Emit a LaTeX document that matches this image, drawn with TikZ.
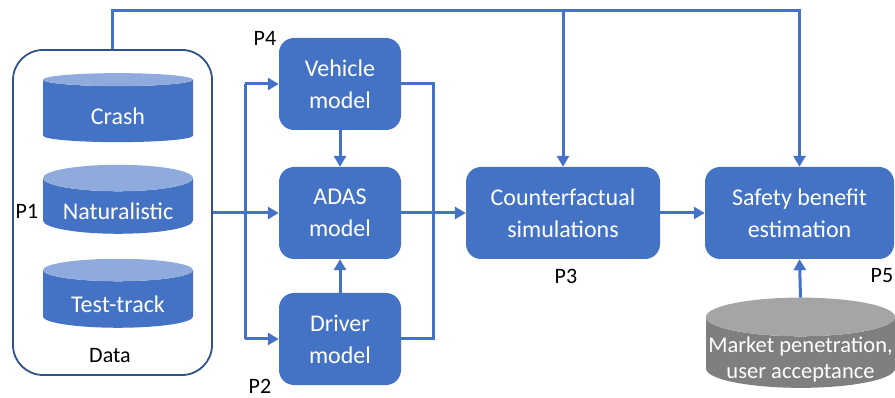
\documentclass[tikz,border=0pt]{standalone}
\usepackage{fontspec}
\setmainfont{Carlito}
\usetikzlibrary{shapes.geometric,arrows.meta}
\definecolor{boxblue}{HTML}{4472C4}
\definecolor{toplight}{HTML}{8FAADC}
\definecolor{frameblue}{HTML}{2F528F}
\definecolor{bodygray}{HTML}{7F7F7F}
\definecolor{topgray}{HTML}{A5A5A5}

\begin{document}
\begin{tikzpicture}[x=1pt, y=-1pt,
  blk/.style={rectangle, rounded corners=15pt, fill=boxblue, text=white, align=center,
    minimum width=122pt, minimum height=92pt, inner sep=0pt, font=\fontsize{24}{32}\selectfont},
  db/.style={cylinder, shape border rotate=90, aspect=0.24, cylinder uses custom fill,
    cylinder body fill=boxblue, cylinder end fill=toplight, minimum width=150pt,
    minimum height=69pt, inner sep=0pt, outer sep=0pt, text=white, font=\fontsize{24}{30}\selectfont},
  lbl/.style={font=\fontsize{22}{26}\selectfont, text=black},
  link/.style={draw=boxblue, line width=3pt},
  arr/.style={link, -{Triangle[length=11pt,width=12pt]}}
]
  \useasboundingbox (0,0) rectangle (895,398);

  % Data sources
  \node[draw=frameblue, line width=1.8pt, rounded corners=30pt, minimum width=199pt,
        minimum height=325pt, inner sep=0pt] (data) at (112.5,212.5) {};
  \node[db] (crash) at (118,111) {\raisebox{-5pt}[\height][\depth]{Crash}};
  \node[db] (natur) at (118,206) {\raisebox{-5pt}[\height][\depth]{Naturalistic}};
  \node[db] (track) at (118,299) {\raisebox{-5pt}[\height][\depth]{Test-track}};
  \node[lbl] (datalbl) at (110,356) {Data};
  \node[lbl] (p1) at (27,211) {P1};

  % Models
  \node[blk] (vehicle) at (340,84) {Vehicle\\model};
  \node[blk] (adas) at (340,213) {ADAS\\model};
  \node[blk] (driver) at (340,339) {Driver\\model};
  \node[lbl] (p4) at (265,38) {P4};
  \node[lbl] (p2) at (260,386) {P2};

  % Simulation and benefit
  \node[blk, minimum width=194pt] (cfsim) at (563,213) {Counterfactual\\simulations};
  \node[blk, minimum width=189pt] (benefit) at (799.5,213) {Safety benefit\\estimation};
  \node[lbl] (p3) at (566,276) {P3};
  \node[lbl] (p5) at (882,276) {P5};
  \node[db, cylinder body fill=bodygray, cylinder end fill=topgray, aspect=0.21,
        minimum width=189pt, minimum height=79pt,
        font=\fontsize{22.5}{26}\selectfont] (market) at (800.5,352.5)
        {\raisebox{-13pt}[16pt][16pt]{\begin{tabular}{@{}c@{}}Market penetration,\\user acceptance\end{tabular}}};

  % Bus lines
  \coordinate (busl) at (245,213);
  \coordinate (busr) at (433,213);
  \coordinate (bust) at (112.5,11);

  \draw[arr] (data.east |- adas.west) -- (adas.west);
  \draw[link] (busl |- vehicle.west) -- (busl |- driver.west);
  \draw[arr] (busl |- vehicle.west) -- (vehicle.west);
  \draw[arr] (busl |- driver.west) -- (driver.west);
  \draw[link] (vehicle.east) -| (busr) |- (driver.east);
  \draw[arr] (vehicle) -- (adas);
  \draw[arr] (driver) -- (adas);
  \draw[arr] (adas.east) -- (cfsim.west);
  \draw[arr] (cfsim.east) -- (benefit.west);
  \draw[arr] (market.north) -- (benefit.south);

  % Top feedback line
  \draw[arr] (data.north) |- (benefit.north |- bust) -- (benefit.north);
  \draw[arr] (cfsim.north |- bust) -- (cfsim.north);
\end{tikzpicture}
\end{document}
